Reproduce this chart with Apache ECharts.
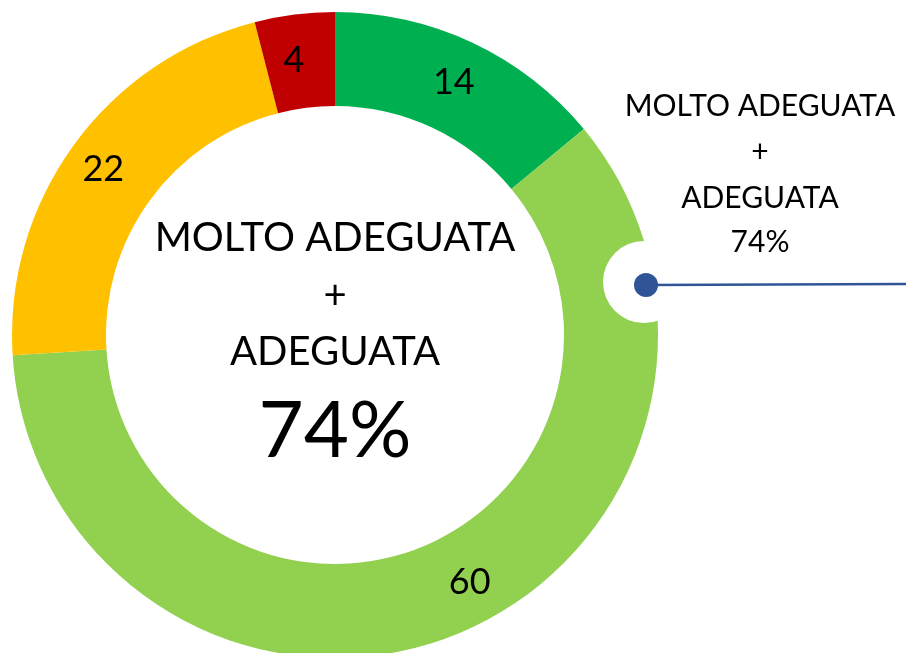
<!DOCTYPE html>
<html>
<head>
    <meta charset="utf-8">
    <title>Molto adeguata + adeguata</title>
    <script src="https://cdn.jsdelivr.net/npm/echarts@6/dist/echarts.min.js"></script>
    <style>
        html, body { margin: 0; padding: 0; background: #fff; }
    </style>
</head>
<body>
<div id="main" style="width: 906px;height:653px;"></div>
<script>
    // dati (in senso orario partendo dalle 12)
    var categories = ['MOLTO ADEGUATA', 'ADEGUATA', 'POCO ADEGUATA', 'PER NIENTE ADEGUATA'];
    var values = [14, 60, 22, 4];
    var colors = ['#00B050', '#92D050', '#FFC000', '#C00000'];
    var centerLines = ['MOLTO ADEGUATA', '+', 'ADEGUATA'];
    var totalLabel = '74%';

    var font = 'Lato, "Open Sans", sans-serif';
    var myChart = echarts.init(document.getElementById('main'));

    // piccolo aiuto per i testi centrati
    function txt(x, y, text, size) {
        return {
            type: 'text', x: x, y: y, z: 10,
            style: { text: text, font: size + 'px ' + font, fill: '#000', textAlign: 'center', textVerticalAlign: 'middle' }
        };
    }

    myChart.setOption({
        animation: false,
        series: [{
            type: 'pie',
            center: [335, 335],
            radius: [229, 323],
            startAngle: 90,
            clockwise: true,
            silent: true,
            label: {
                position: 'inside',
                color: '#000',
                fontSize: 36,
                fontFamily: font,
                formatter: '{c}'
            },
            labelLine: { show: false },
            itemStyle: { borderWidth: 0 },
            data: categories.map(function (c, i) {
                var d = { name: c, value: values[i], itemStyle: { color: colors[i] } };
                if (i === 1) d.label = { offset: [32, -12] };
                if (i === 2) d.label = { offset: [-6, -2] };
                if (i === 3) d.label = { offset: [-6, 2] };
                return d;
            })
        }],
        graphic: [
            // testo centrale
            txt(335, 238, centerLines[0], 40),
            txt(335, 296, centerLines[1], 40),
            txt(335, 352, centerLines[2], 40),
            txt(335, 432, totalLabel, 78),
            // richiamo a destra
            { type: 'circle', shape: { cx: 644, cy: 282, r: 41 }, style: { fill: '#fff' }, z: 20 },
            { type: 'line', shape: { x1: 646, y1: 285, x2: 906, y2: 284 }, style: { stroke: '#2F5597', lineWidth: 2.5 }, z: 21 },
            { type: 'circle', shape: { cx: 646, cy: 285, r: 12 }, style: { fill: '#2F5597' }, z: 22 },
            txt(760, 106, centerLines[0], 30),
            txt(760, 152, centerLines[1], 30),
            txt(760, 198, centerLines[2], 30),
            txt(760, 242, totalLabel, 30)
        ]
    });
</script>
</body>
</html>
